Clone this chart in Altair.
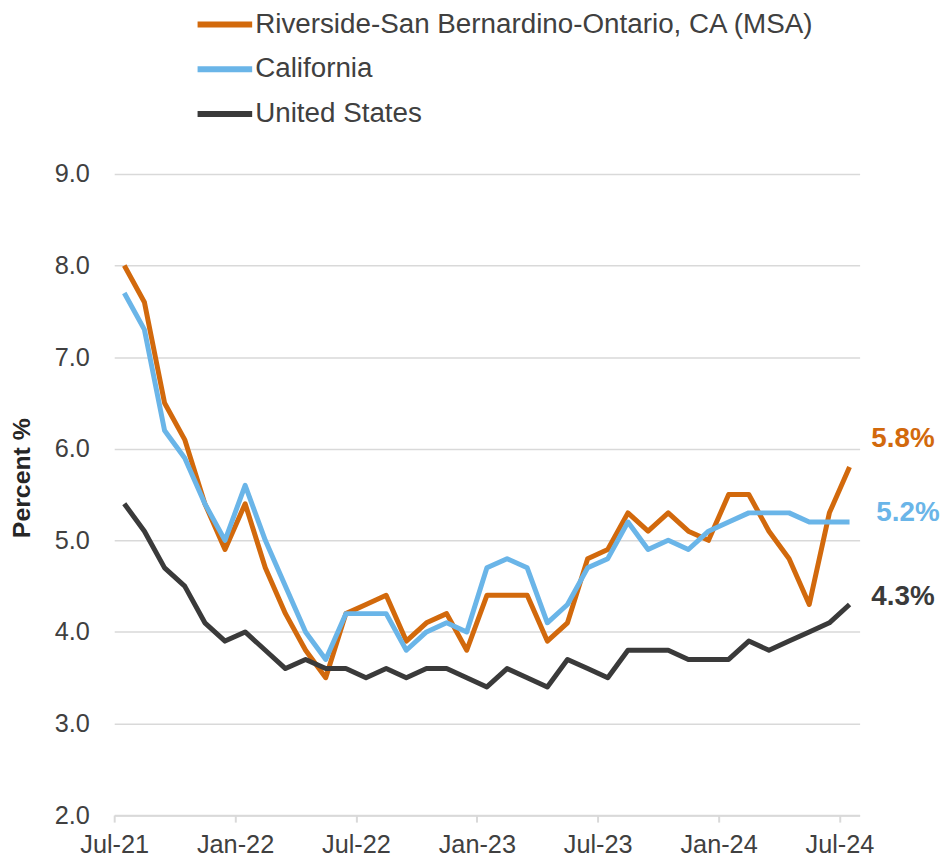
import altair as alt
import pandas as pd

months = ["Jul-21", "Aug-21", "Sep-21", "Oct-21", "Nov-21", "Dec-21",
          "Jan-22", "Feb-22", "Mar-22", "Apr-22", "May-22", "Jun-22",
          "Jul-22", "Aug-22", "Sep-22", "Oct-22", "Nov-22", "Dec-22",
          "Jan-23", "Feb-23", "Mar-23", "Apr-23", "May-23", "Jun-23",
          "Jul-23", "Aug-23", "Sep-23", "Oct-23", "Nov-23", "Dec-23",
          "Jan-24", "Feb-24", "Mar-24", "Apr-24", "May-24", "Jun-24",
          "Jul-24"]

riverside = [8.0, 7.6, 6.5, 6.1, 5.4, 4.9, 5.4, 4.7, 4.2, 3.8, 3.5, 4.2,
             4.3, 4.4, 3.9, 4.1, 4.2, 3.8, 4.4, 4.4, 4.4, 3.9, 4.1, 4.8,
             4.9, 5.3, 5.1, 5.3, 5.1, 5.0, 5.5, 5.5, 5.1, 4.8, 4.3, 5.3, 5.8]
california = [7.7, 7.3, 6.2, 5.9, 5.4, 5.0, 5.6, 5.0, 4.5, 4.0, 3.7, 4.2,
              4.2, 4.2, 3.8, 4.0, 4.1, 4.0, 4.7, 4.8, 4.7, 4.1, 4.3, 4.7,
              4.8, 5.2, 4.9, 5.0, 4.9, 5.1, 5.2, 5.3, 5.3, 5.3, 5.2, 5.2, 5.2]
united_states = [5.4, 5.1, 4.7, 4.5, 4.1, 3.9, 4.0, 3.8, 3.6, 3.7, 3.6, 3.6,
                 3.5, 3.6, 3.5, 3.6, 3.6, 3.5, 3.4, 3.6, 3.5, 3.4, 3.7, 3.6,
                 3.5, 3.8, 3.8, 3.8, 3.7, 3.7, 3.7, 3.9, 3.8, 3.9, 4.0, 4.1, 4.3]

series_names = ["Riverside-San Bernardino-Ontario, CA (MSA)", "California", "United States"]
series_colors = ["#D2690C", "#6AB5E8", "#3A3A3A"]
tick_labels = ["Jul-21", "Jan-22", "Jul-22", "Jan-23", "Jul-23", "Jan-24", "Jul-24"]

rows = []
for name, vals in zip(series_names, [riverside, california, united_states]):
    for i, (m, v) in enumerate(zip(months, vals)):
        rows.append({"month": m, "pos": i + 0.5, "series": name, "value": v,
                     "label": f"{v:.1f}%", "last": i == len(months) - 1})
df = pd.DataFrame(rows)

FONT = "Liberation Sans"
TXT = "#404040"
GRID = "#D9D9D9"

label_expr = "[" + ",".join(f"'{t}'" for t in tick_labels) + "][round(datum.value/6)]"

x = alt.X("pos:Q", scale=alt.Scale(domain=[0, len(months)], nice=False, zero=False),
          axis=alt.Axis(values=[0, 6, 12, 18, 24, 30, 36], labelExpr=label_expr,
                        title=None, grid=False, domain=True, domainColor=GRID,
                        domainWidth=2, ticks=True, tickColor=GRID, tickWidth=2,
                        tickSize=7, labelPadding=11, labelFontSize=25.5,
                        labelFont=FONT, labelColor=TXT, labelFlush=False))
y = alt.Y("value:Q", scale=alt.Scale(domain=[2, 9], nice=False, zero=False),
          axis=alt.Axis(values=[2, 3, 4, 5, 6, 7, 8, 9], format=".1f",
                        title="Percent %", titleFont=FONT, titleFontSize=25,
                        titleFontWeight="bold", titleColor="#262626",
                        titleX=-93, titleY=306, titleAngle=270,
                        titleAlign="center", titleBaseline="middle",
                        grid=True, gridColor=GRID, gridWidth=1.5,
                        domain=False, ticks=False, labelPadding=25,
                        labelFontSize=25.5, labelFont=FONT, labelColor=TXT))

color = alt.Color("series:N",
                  scale=alt.Scale(domain=series_names, range=series_colors),
                  legend=alt.Legend(title=None, orient="none", legendX=81, legendY=-181,
                                    symbolType="stroke", symbolSize=3025,
                                    symbolStrokeWidth=6, labelFontSize=28,
                                    labelFont=FONT, labelColor=TXT,
                                    labelOffset=0, rowPadding=-7.5, labelLimit=700,
                                    padding=0))

lines = alt.Chart(df).mark_line(strokeWidth=5, strokeJoin="round").encode(
    x=x, y=y, color=color, order="pos:Q")

last = df[df["last"]]
offsets = {series_names[0]: (22, -28), series_names[1]: (27, -9), series_names[2]: (22, -7)}
texts = []
for name, col in zip(series_names, series_colors):
    dx, dy = offsets[name]
    texts.append(alt.Chart(last[last["series"] == name]).mark_text(
        align="left", baseline="middle", dx=dx, dy=dy, font=FONT,
        fontSize=28, fontWeight="bold", color=col).encode(
        x=alt.X("pos:Q"), y=alt.Y("value:Q"), text="label:N"))

chart = alt.layer(lines, *texts).properties(
    width=751, height=646,
    background="white",
    autosize=alt.AutoSizeParams(type="none"),
    padding={"left": 107, "top": 164, "right": 82, "bottom": 44},
).configure_view(stroke=None)

chart.save("out.html", embed_options={"renderer": "svg", "actions": False})
